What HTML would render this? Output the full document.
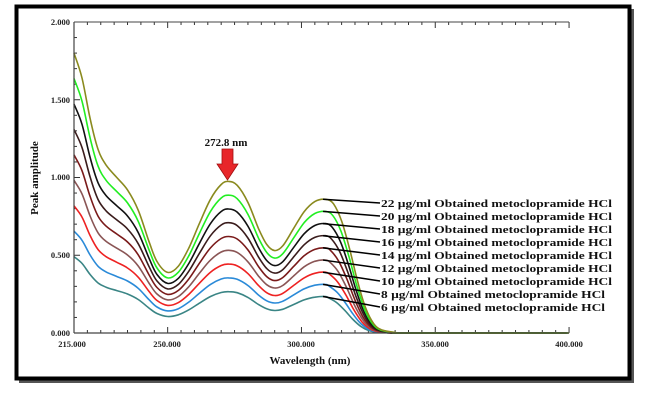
<!DOCTYPE html>
<html><head><meta charset="utf-8"><style>
html,body{margin:0;padding:0;background:#fff;}
svg{display:block;}
text{font-family:"Liberation Serif",serif;font-weight:bold;}
</style></head><body>
<svg id="s" width="648" height="409" xmlns="http://www.w3.org/2000/svg">
<rect x="19" y="9" width="615" height="374" fill="#555"/>
<rect x="16.5" y="6.5" width="613" height="372" fill="#fff" stroke="#000" stroke-width="4"/>
<g id="ticks" stroke="#333" stroke-width="1"></g>
<g id="curves" fill="none" stroke-width="1.6"></g>
<g id="leaders" stroke="#000" stroke-width="1.5"></g>
<line x1="74" y1="22" x2="74" y2="333" stroke="#444" stroke-width="1.2"/>
<line x1="74" y1="333" x2="569" y2="333" stroke="#444" stroke-width="1.2"/>
<line x1="74" y1="22" x2="569" y2="22" stroke="#444" stroke-width="1"/>
<g font-size="8.5" fill="#222" text-anchor="end">
<text x="70" y="25">2.000</text><text x="70" y="103">1.500</text><text x="70" y="180">1.000</text><text x="70" y="258">0.500</text><text x="70" y="336">0.000</text>
</g>
<g font-size="8.5" fill="#222" text-anchor="middle">
<text x="72" y="347">215.000</text><text x="167" y="347">250.000</text><text x="301" y="347">300.000</text><text x="435" y="347">350.000</text><text x="569" y="347">400.000</text>
</g>
<text x="310" y="364" font-size="11" text-anchor="middle" fill="#111">Wavelength (nm)</text>
<text transform="translate(38,178) rotate(-90)" font-size="11" text-anchor="middle" fill="#111">Peak amplitude</text>
<text x="226" y="146" font-size="11" text-anchor="middle" fill="#111">272.8 nm</text>
<polygon points="222,149 233,149 233,164 238,164 227.5,180 217,164 222,164" fill="#e8262a" stroke="#a01010" stroke-width="0.8"/>
<g id="labels" font-size="11" fill="#111"></g>
</svg>
<script>
var NS="http://www.w3.org/2000/svg";
function X(w){return 74+(w-215)*2.676;}
function Y(v){return 333-v*155.5;}
var pts=[[215,1.80],[218,1.64],[221,1.38],[224,1.18],[227,1.08],[231,1.00],[235,0.92],[239,0.79],[243,0.59],[246,0.46],[250,0.39],[254,0.43],[258,0.55],[262,0.71],[266,0.86],[270,0.955],[272.8,0.975],[276,0.95],[280,0.84],[284,0.67],[287,0.57],[290,0.53],[293,0.56],[297,0.67],[301,0.78],[305,0.845],[309,0.86],[312,0.83],[315,0.72],[318,0.54],[321,0.33],[324,0.16],[327,0.06],[330,0.02],[335,0.004],[340,0],[400,0]];
function path(k,shift){
 var P=pts.map(function(p){var w=p[0];if(w>309)w=w+shift;return [X(w),Y(p[1]*k)];});
 var d="M"+P[0][0].toFixed(1)+","+P[0][1].toFixed(1);
 for(var i=0;i<P.length-1;i++){
  var p0=P[Math.max(0,i-1)],p1=P[i],p2=P[i+1],p3=P[Math.min(P.length-1,i+2)];
  var c1x=p1[0]+(p2[0]-p0[0])/6,c1y=p1[1]+(p2[1]-p0[1])/6;
  var c2x=p2[0]-(p3[0]-p1[0])/6,c2y=p2[1]-(p3[1]-p1[1])/6;
  d+=" C"+c1x.toFixed(1)+","+c1y.toFixed(1)+" "+c2x.toFixed(1)+","+c2y.toFixed(1)+" "+p2[0].toFixed(1)+","+p2[1].toFixed(1);
 }
 return d;
}
var series=[[22,"#8a8a1e"],[20,"#22ee22"],[18,"#111111"],[16,"#3a1c1c"],[14,"#7a1a1a"],[12,"#8a5555"],[10,"#ee2222"],[8,"#2a8ad8"],[6,"#3a8585"]];
var g=document.getElementById("curves"),lg=document.getElementById("leaders"),lb=document.getElementById("labels");
series.slice().reverse().forEach(function(s){
 var k=s[0]/22, shift=(s[0]-22)*0.12;
 var p=document.createElementNS(NS,"path");p.setAttribute("d",path(k,shift));p.setAttribute("stroke",s[1]);g.appendChild(p);
});
series.forEach(function(s,i){
 var k=s[0]/22, ty=203+i*13;
 var l=document.createElementNS(NS,"line");
 l.setAttribute("x1",323);l.setAttribute("y1",Y(0.86*k));l.setAttribute("x2",380);l.setAttribute("y2",ty);lg.appendChild(l);
 var t=document.createElementNS(NS,"text");
 t.setAttribute("x",381);t.setAttribute("y",ty+4);
 t.textContent=s[0]+" \u00b5g/ml Obtained metoclopramide HCl";
 t.setAttribute("textLength",s[0]>=10?231:224);t.setAttribute("lengthAdjust","spacingAndGlyphs");
 lb.appendChild(t);
});
var tk=document.getElementById("ticks"),h="";
for(var w=215;w<=400;w+=5){var x=X(w),L=(w%50==0||w==215)?6:3;
 h+='<line x1="'+x+'" y1="333" x2="'+x+'" y2="'+(333-L)+'"/><line x1="'+x+'" y1="22" x2="'+x+'" y2="'+(22+L)+'"/>';}
for(var v=0;v<=20;v++){var y=Y(v/10),L=(v%5==0)?6:3;h+='<line x1="74" y1="'+y+'" x2="'+(74+L)+'" y2="'+y+'"/>';}
tk.innerHTML=h;
</script>
</body></html>
